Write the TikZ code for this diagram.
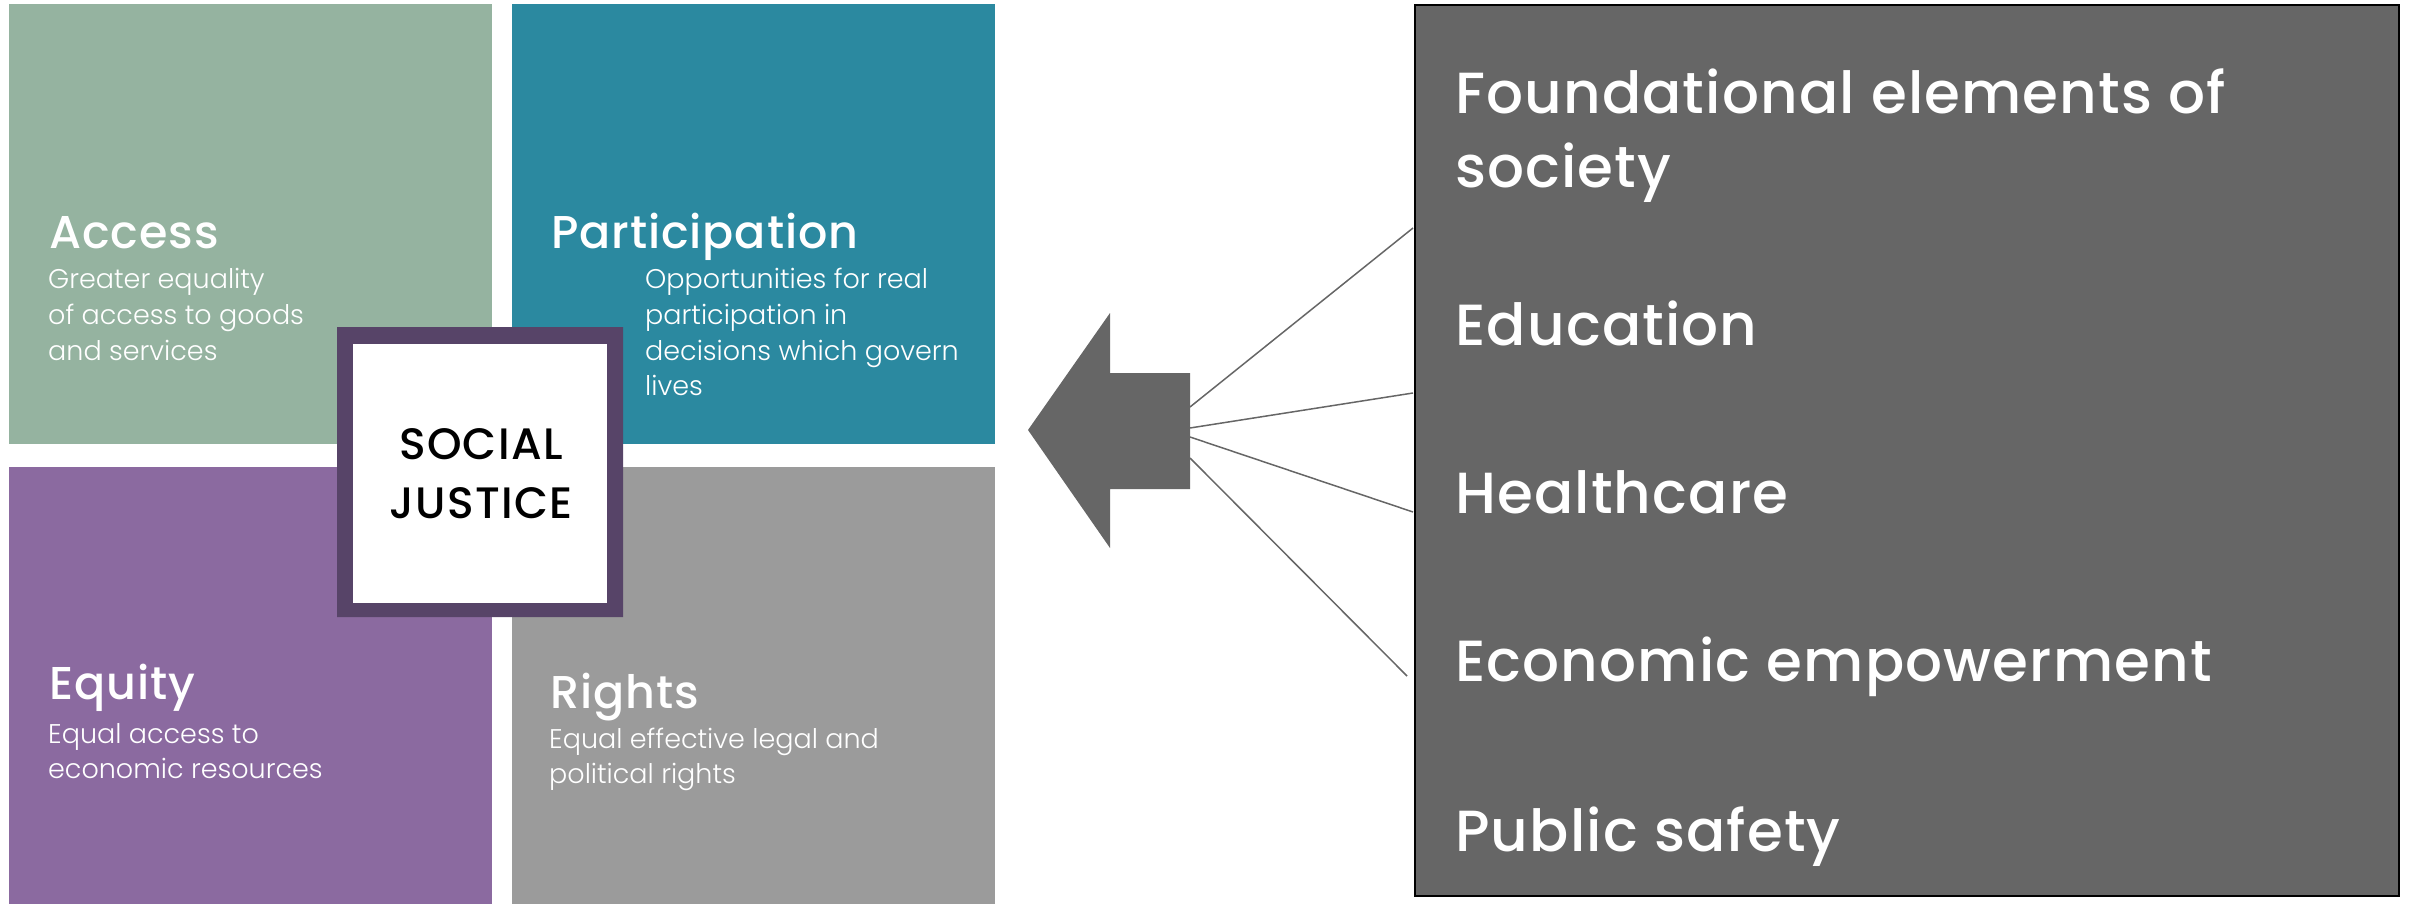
\documentclass[tikz,border=0pt]{standalone}
\usepackage{fontspec}
\setmainfont{Poppins}
\newfontfamily\medfont{Poppins Medium}
\newfontfamily\medspfont{Poppins Medium}[LetterSpace=2]
\newfontfamily\medwidefont{Poppins Medium}[LetterSpace=3]
\newfontfamily\lightfont{Poppins Light}
\usetikzlibrary{shapes.misc}
\definecolor{qgreen}{RGB}{149,179,160}
\definecolor{qteal}{RGB}{43,137,160}
\definecolor{qpurple}{RGB}{139,106,160}
\definecolor{qgray}{RGB}{155,155,155}
\definecolor{framec}{RGB}{87,68,104}
\definecolor{dgray}{RGB}{102,102,102}
\begin{document}
\begin{tikzpicture}[x=1pt,y=-1pt,
  quad/.style={rectangle, inner sep=0, anchor=north west, minimum width=483, minimum height=440},
  head/.style={anchor=base west, inner sep=0, text=white, font=\medspfont\fontsize{46}{50}\selectfont},
  desc/.style={anchor=base west, inner sep=0, text=white, font=\lightfont\fontsize{27}{30}\selectfont},
  item/.style={anchor=base west, inner sep=0, text=white, font=\medspfont\fontsize{58}{64}\selectfont},
  center/.style={anchor=base, inner sep=0, text=black, font=\medwidefont\fontsize{44}{48}\selectfont},
  ray/.style={draw=dgray, line width=1.5}]
\useasboundingbox (0,0) rectangle (2412,904);
% quadrants
\node[quad, fill=qgreen] (access) at (9,4) {};
\node[quad, fill=qteal] (partic) at (512,4) {};
\node[quad, fill=qpurple, minimum height=437] (equity) at (9,467) {};
\node[quad, fill=qgray, minimum height=437] (rights) at (512,467) {};
% quadrant texts
\node[head] (accessh) at (49,248) {Access};
\node[desc] (accessd1) at (48,288) {Greater equality};
\node[desc] (accessd2) at (48,324) {of access to goods};
\node[desc] (accessd3) at (48,360) {and services};
\node[head] (partich) at (551,248) {Participation};
\node[desc] (particd1) at (645,288) {Opportunities for real};
\node[desc] (particd2) at (645,324) {participation in};
\node[desc] (particd3) at (645,360) {decisions which govern};
\node[desc] (particd4) at (645,395) {lives};
\node[head] (equityh) at (49,699) {Equity};
\node[desc] (equityd1) at (48,743) {Equal access to};
\node[desc] (equityd2) at (48,778) {economic resources};
\node[head] (rightsh) at (550,708) {Rights};
\node[desc] (rightsd1) at (549,748) {Equal effective legal and};
\node[desc] (rightsd2) at (549,783) {political rights};
% centre
\node[chamfered rectangle, chamfered rectangle xsep=5pt, chamfered rectangle ysep=5pt,
      fill=framec, inner sep=0, minimum width=286, minimum height=290] (frame) at (480,472) {};
\node[rectangle, fill=white, inner sep=0, minimum width=254, minimum height=259] (inner) at (480,473.5) {};
\node[center] (social) at (481,459) {SOCIAL};
\node[center] (justice) at (481,518) {JUSTICE};
% arrow
\fill[dgray] (1028,430) -- (1110,313) -- (1110,373) -- (1190,373) -- (1190,489)
  -- (1110,489) -- (1110,548) -- cycle;
% right box
\node[rectangle, draw=black, line width=2, fill=dgray, inner sep=0, anchor=north west,
      minimum width=984, minimum height=891] (rbox) at (1414,4) {};
\node[item] (it1a) at (1455,114) {Foundational elements of};
\node[item] (it1b) at (1455,188) {society};
\node[item] (it2) at (1455,345) {Education};
\node[item] (it3) at (1455,513) {Healthcare};
\node[item] (it4) at (1455,681) {Economic empowerment};
\node[item] (it5) at (1455,851) {Public safety};
% rays
\coordinate (s1) at (1190,407); \coordinate (e1) at (1413,228);
\coordinate (s2) at (1190,428); \coordinate (e2) at (1413,393);
\coordinate (s3) at (1190,437); \coordinate (e3) at (1413,512);
\coordinate (s4) at (1190,458); \coordinate (e4) at (1407,676);
\draw[ray] (s1) -- (e1);
\draw[ray] (s2) -- (e2);
\draw[ray] (s3) -- (e3);
\draw[ray] (s4) -- (e4);
\end{tikzpicture}
\end{document}
